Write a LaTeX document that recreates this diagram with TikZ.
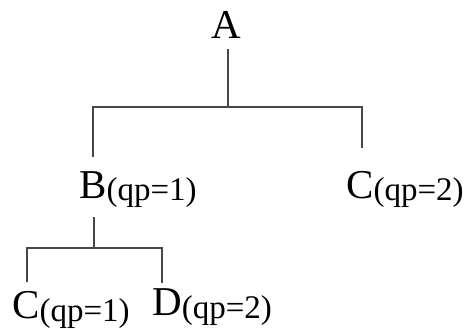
\documentclass[tikz,border=0pt]{standalone}
\usepackage{fontspec}
\setmainfont{Liberation Serif}
\newcommand\qplabel[1]{\raisebox{-2.5pt}{\fontsize{33}{33}\selectfont #1}}
\begin{document}
\begin{tikzpicture}[x=1pt,y=-1pt,
  lbl/.style={anchor=base west,inner sep=0pt,font=\fontsize{41}{41}\selectfont},
  conn/.style={draw=black!72,line width=1.6pt}]
\useasboundingbox (0,0) rectangle (469,329);
\node[lbl] (A) at (211,39) {A};
\node[lbl] (B) at (79,198) {B\qplabel{(qp=1)}};
\node[lbl] (C2) at (346,198) {C\qplabel{(qp=2)}};
\node[lbl] (C1) at (12,318.5) {C\qplabel{(qp=1)}};
\node[lbl] (D) at (152,315.5) {D\qplabel{(qp=2)}};
% junctions
\coordinate (a1) at (228,49);
\coordinate (ja) at (228,107);
\coordinate (jl) at (93,107);
\coordinate (jr) at (362,107);
\coordinate (bl) at (93,157);
\coordinate (cr) at (362,148);
\coordinate (b1) at (94,217);
\coordinate (jb) at (94,248);
\coordinate (jbl) at (27,248);
\coordinate (jbr) at (162,248);
\coordinate (c1t) at (27,282);
\coordinate (dt) at (162,283);
\draw[conn] (a1) -- (ja);
\draw[conn] (bl) -- (jl) -- (jr) -- (cr);
\draw[conn] (b1) -- (jb);
\draw[conn] (c1t) -- (jbl) -- (jbr) -- (dt);
\end{tikzpicture}
\end{document}
